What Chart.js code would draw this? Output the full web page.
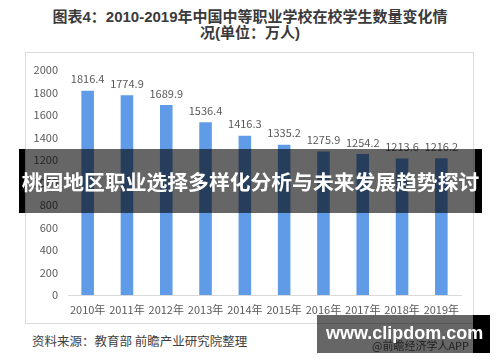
<!DOCTYPE html>
<html lang="zh">

<head>
    <meta charset="UTF-8">
    <title>中等职业学校在校学生数量</title>
    <script src="https://cdn.jsdelivr.net/npm/chart.js"></script>
    <style>
        body {
            margin: 0;
            background: #fff;
            font-family: 'Liberation Sans', 'Noto Sans CJK SC', sans-serif;
        }

        #wrap {
            position: relative;
            width: 500px;
            height: 362px;
            overflow: hidden;
        }

        #title {
            position: absolute;
            left: 0;
            top: 9px;
            width: 500px;
            text-align: center;
            font-size: 15px;
            font-weight: bold;
            line-height: 16px;
            color: #3a3a3a;
        }

        #box {
            position: absolute;
            left: 25px;
            top: 52px;
            width: 447px;
            height: 270px;
            border: 1px solid #dcdcdc;
        }

        #chart {
            position: absolute;
            left: 0;
            top: 0;
        }

        #banner {
            position: absolute;
            left: 19px;
            top: 149px;
            width: 463px;
            height: 64px;
            background: rgba(0, 0, 0, 0.6);
        }

        #banner .edgeL,
        #banner .edgeR {
            position: absolute;
            top: 0;
            height: 64px;
            background: #000;
        }

        #banner .edgeL { left: 0; width: 6px; }
        #banner .edgeR { right: 0; width: 7px; }

        #banner .txt {
            position: absolute;
            left: -20px;
            top: 0;
            width: 503px;
            color: #fff;
            font-family: 'Noto Sans CJK SC', sans-serif;
            font-weight: bold;
            font-size: 20.8px;
            line-height: 64px;
            text-align: center;
            white-space: nowrap;
        }

        #source {
            position: absolute;
            left: 32px;
            top: 331px;
            font-family: 'Noto Sans CJK SC', sans-serif;
            font-size: 12.5px;
            color: #404040;
        }

        #app {
            position: absolute;
            left: 372px;
            top: 337px;
            font-family: 'Noto Sans CJK SC', sans-serif;
            font-size: 11px;
            color: #555;
        }

        #clip {
            position: absolute;
            left: 317px;
            top: 315px;
            width: 173px;
            height: 38px;
            background: rgba(0, 0, 0, 0.6);
            border-right: 17px solid #000;
            box-sizing: border-box;
            color: #fff;
            font-weight: bold;
            font-size: 18px;
            line-height: 36px;
            padding-left: 9px;
        }
    </style>
</head>

<body>
    <div id="wrap">
        <div id="title">图表4：2010-2019年中国中等职业学校在校学生数量变化情<br>况(单位：万人)</div>
        <div id="box"><canvas id="chart" width="450" height="272"></canvas></div>
        <div id="banner">
            <div class="edgeL"></div>
            <div class="edgeR"></div>
            <div class="txt">桃园地区职业选择多样化分析与未来发展趋势探讨</div>
        </div>
        <div id="source">资料来源：教育部 前瞻产业研究院整理</div>
        <div id="app">@前瞻经济学人APP</div>
        <div id="clip">www.clipdom.com</div>
    </div>

    <script>
        // 数据
        var years = ['2010年', '2011年', '2012年', '2013年', '2014年', '2015年', '2016年', '2017年', '2018年', '2019年'];
        var students = [1816.4, 1774.9, 1689.9, 1536.4, 1416.3, 1335.2, 1275.9, 1254.2, 1213.6, 1216.2];
        var yMax = 2000;
        var yStep = 200;

        var labelFont = "11px 'Noto Sans CJK SC', sans-serif";

        // 柱顶数值
        var valueLabels = {
            id: 'valueLabels',
            afterDatasetsDraw: function (chart) {
                var ctx = chart.ctx;
                var meta = chart.getDatasetMeta(0);
                ctx.save();
                ctx.font = labelFont;
                ctx.fillStyle = '#595959';
                ctx.textAlign = 'center';
                ctx.textBaseline = 'bottom';
                meta.data.forEach(function (bar, i) {
                    ctx.fillText(students[i].toFixed(1), bar.x, bar.y - 6);
                });
                ctx.restore();
            }
        };

        new Chart(document.getElementById('chart'), {
            type: 'bar',
            data: {
                labels: years,
                datasets: [{
                    data: students,
                    backgroundColor: '#5f9be6',
                    barPercentage: 0.64,
                    categoryPercentage: 0.5
                }]
            },
            options: {
                responsive: false,
                animation: false,
                layout: { padding: { top: 17, right: 15, left: 0, bottom: 0 } },
                plugins: {
                    legend: { display: false },
                    tooltip: { enabled: false }
                },
                scales: {
                    x: {
                        grid: { display: false, drawTicks: false },
                        border: { display: true, color: '#d9d9d9', width: 1 },
                        ticks: {
                            color: '#595959',
                            font: { family: "'Noto Sans CJK SC', sans-serif", size: 11 },
                            padding: 8,
                            maxRotation: 0,
                            autoSkip: false
                        },
                        afterFit: function (scale) { scale.height = 30; }
                    },
                    y: {
                        min: 0,
                        max: yMax,
                        grid: { display: false, drawTicks: false },
                        border: { display: false },
                        ticks: {
                            stepSize: yStep,
                            color: '#595959',
                            font: { family: "'Noto Sans CJK SC', sans-serif", size: 11 },
                            padding: 10,
                            callback: function (v) { return String(v); }
                        },
                        afterFit: function (scale) { scale.width = 42; }
                    }
                }
            },
            plugins: [valueLabels]
        });
    </script>
</body>

</html>
